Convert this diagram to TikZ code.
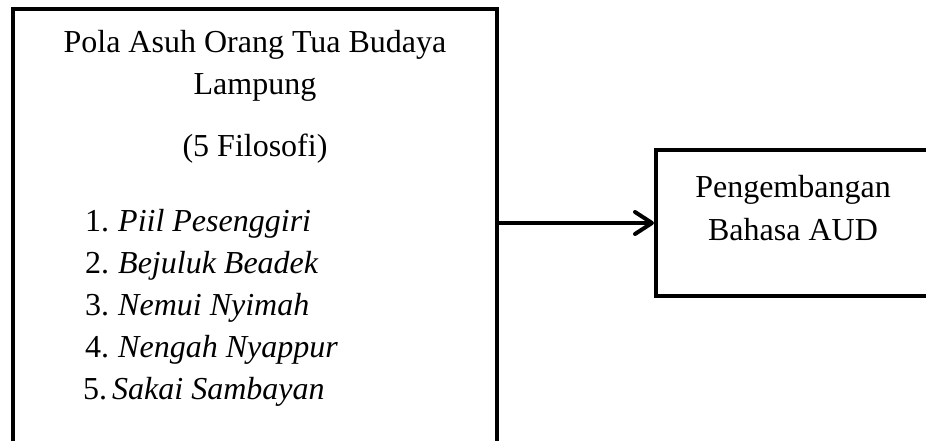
\documentclass[tikz,border=0pt]{standalone}
\usepackage{fontspec}
\setmainfont{Liberation Serif}
\usetikzlibrary{arrows.meta}
\begin{document}
\begin{tikzpicture}[x=1pt,y=-1pt,
  box/.style={draw, line width=4pt, rectangle, inner sep=0pt},
  txt/.style={inner sep=0pt, anchor=base, font=\fontsize{32}{42}\selectfont},
  item/.style={inner sep=0pt, anchor=base west, font=\fontsize{32}{42}\selectfont},
  conn/.style={line width=4pt, -{Straight Barb[length=17pt,width=22pt,round]}}]
\useasboundingbox (0,0) rectangle (926,441);
\node[box, minimum width=484pt, minimum height=480pt] (L) at (255,249) {};
\node[box, minimum width=300pt, minimum height=146pt] (R) at (806,223) {};
\node[txt] (t1) at (255,53) {Pola Asuh Orang Tua Budaya};
\node[txt] (t2) at (255,95) {Lampung};
\node[txt] (t3) at (255,157) {(5 Filosofi)};
\node[item] (n1) at (85,231) {1.};
\node[item] (i1) at (118,231) {\itshape Piil Pesenggiri};
\node[item] (n2) at (85,273) {2.};
\node[item] (i2) at (118,273) {\itshape Bejuluk Beadek};
\node[item] (n3) at (85,315) {3.};
\node[item] (i3) at (118,315) {\itshape Nemui Nyimah};
\node[item] (n4) at (85,357) {4.};
\node[item] (i4) at (118,357) {\itshape Nengah Nyappur};
\node[item] (n5) at (83,399) {5.};
\node[item] (i5) at (112,399) {\itshape Sakai Sambayan};
\node[txt] (r1) at (793,197) {Pengembangan};
\node[txt] (r2) at (793,240) {Bahasa AUD};
\draw[conn] (L.east |- R.west) -- (R.west);
\end{tikzpicture}
\end{document}
